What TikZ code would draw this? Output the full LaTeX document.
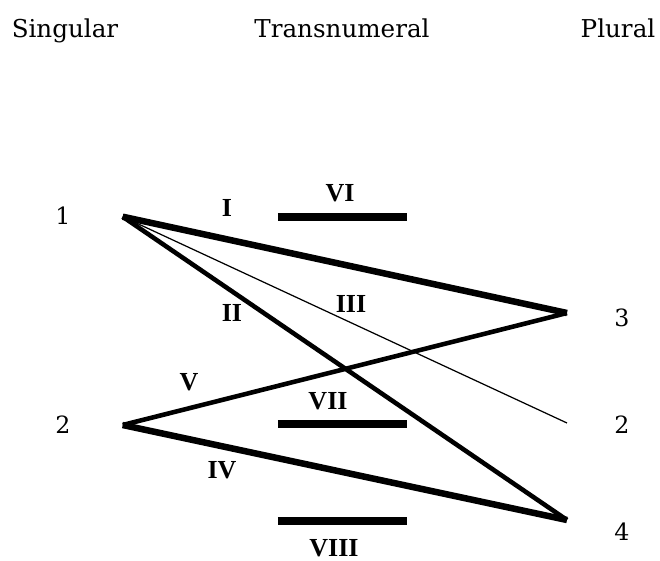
\documentclass[tikz,border=0pt]{standalone}
\usepackage{fontspec}
\setmainfont{DejaVu Serif}
\newfontfamily\romfont{Liberation Serif}
\usepackage{tikz}

\begin{document}
\begin{tikzpicture}[scale=0.2]
\tikzstyle{every node}+=[inner sep=0pt]
\tikzstyle{head}=[font=\fontsize{14}{16}\selectfont, anchor=base]
\tikzstyle{num}=[font=\fontsize{13.5}{16}\selectfont]
\tikzstyle{rom}=[font=\romfont\bfseries\fontsize{14.8}{17}\selectfont]
\tikzstyle{bar}=[black, line width=5.1pt]
\tikzstyle{heavy}=[black, line width=3.7pt]
\tikzstyle{medium}=[black, line width=2.6pt]
\tikzstyle{light}=[black, line width=0.7pt]
\useasboundingbox (0,0) rectangle (66,-56);
\node [head] (sg) at (6.5,-3.7) {Singular};
\node [head] (tn) at (34.2,-3.7) {Transnumeral};
\node [head] (pl) at (61.8,-3.7) {Plural};
\node [num] (n1) at (6.3,-21.6) {1};
\node [num] (n2) at (6.3,-42.5) {2};
\node [num] (m3) at (62.2,-31.8) {3};
\node [num] (m2) at (62.2,-42.5) {2};
\node [num] (m4) at (62.2,-53.2) {4};
\coordinate (s1) at (12.27,-21.67);
\coordinate (s2) at (12.27,-42.5);
\coordinate (p3) at (56.7,-31.3);
\coordinate (p2) at (56.7,-42.3);
\coordinate (p4) at (56.7,-52.0);
\draw [heavy] (s1) -- (p3);
\draw [medium] (s1) -- (p4);
\draw [light] (s1) -- (p2);
\draw [medium] (s2) -- (p3);
\draw [heavy] (s2) -- (p4);
\coordinate (b6a) at (27.8,-21.7);
\coordinate (b6b) at (40.7,-21.7);
\coordinate (b7a) at (27.8,-42.4);
\coordinate (b7b) at (40.7,-42.4);
\coordinate (b8a) at (27.8,-52.1);
\coordinate (b8b) at (40.7,-52.1);
\draw [bar] (b6a) -- (b6b);
\draw [bar] (b7a) -- (b7b);
\draw [bar] (b8a) -- (b8b);
\node [rom] (r1) at (22.7,-20.8) {I};
\node [rom] (r2) at (23.2,-31.3) {II};
\node [rom] (r3) at (35.1,-30.4) {III};
\node [rom] (r4) at (22.2,-47.0) {IV};
\node [rom] (r5) at (18.9,-38.2) {V};
\node [rom] (r6) at (34.0,-19.3) {VI};
\node [rom] (r7) at (32.8,-40.1) {VII};
\node [rom] (r8) at (33.4,-54.8) {VIII};
\end{tikzpicture}
\end{document}
